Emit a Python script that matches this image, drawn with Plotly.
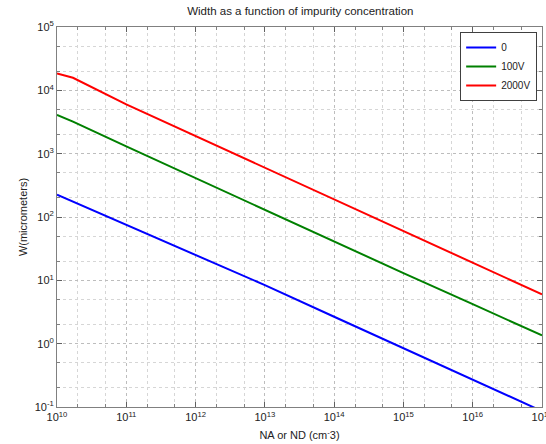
import plotly.graph_objects as go

# Data
N = [1e10, 1.7e10, 1e11, 1e12, 1e13, 1e14, 1e15, 1e16, 1e17]
W_0V = [225, 175, 75, 25, 8.4, 2.66, 0.84, 0.27, 0.086]
W_100V = [4100, 3200, 1300, 410, 130, 41, 13, 4.2, 1.35]
W_2000V = [18500, 15800, 6000, 1900, 600, 190, 60, 19, 6.0]

series = [("0", W_0V, "#0000ff"), ("100V", W_100V, "#008000"), ("2000V", W_2000V, "#ff0000")]

xtickvals = [10**k for k in range(10, 18)]
xticktext = ["10<sup>%d</sup>" % k for k in range(10, 18)]
ytickvals = [10**k for k in range(-1, 6)]
yticktext = ["10<sup>%d</sup>" % k for k in range(-1, 6)]

FONT = "Liberation Sans, Arial"

fig = go.Figure()
for name, vals, col in series:
    fig.add_trace(go.Scatter(x=N, y=vals, mode="lines", name=name,
                             line=dict(color=col, width=2)))

axis_common = dict(
    type="log", showline=True, linecolor="#808080", linewidth=1, mirror="allticks",
    ticks="inside", ticklen=5, tickcolor="#606060",
    showgrid=True, gridcolor="#bdbdbd", griddash="dot", gridwidth=1,
    zeroline=False, ticklabeloverflow="allow",
    tickfont=dict(family=FONT, size=11, color="#222"),
    minor=dict(ticks="inside", ticklen=3, tickcolor="#808080", showgrid=True,
               gridcolor="#d6d6d6", griddash="dot", gridwidth=1),
)

fig.update_xaxes(range=[10, 17.00001], tickvals=xtickvals, ticktext=xticktext,
                 automargin=False,
                 title=dict(text="NA or ND (cm<sup>-</sup>3)", standoff=9,
                            font=dict(family=FONT, size=11, color="#222")),
                 **axis_common)
fig.update_yaxes(range=[-1, 5], tickvals=ytickvals, ticktext=yticktext,
                 title=dict(text="W(micrometers)", standoff=4,
                            font=dict(family=FONT, size=11, color="#222")),
                 **axis_common)

fig.update_layout(
    width=546, height=444,
    margin=dict(l=57, r=4, t=27, b=37),
    paper_bgcolor="white", plot_bgcolor="white",
    title=dict(text="Width as a function of impurity concentration", x=0.55, xanchor="center",
               y=0.985, yanchor="top",
               font=dict(family=FONT, size=11.5, color="#222")),
    legend=dict(x=0.99, y=0.987, xanchor="right", yanchor="top",
                bgcolor="white", bordercolor="#404040", borderwidth=1,
                font=dict(family=FONT, size=10, color="#222"),
                tracegroupgap=0, itemwidth=30),
    showlegend=True,
)

fig.write_html("out.html")
